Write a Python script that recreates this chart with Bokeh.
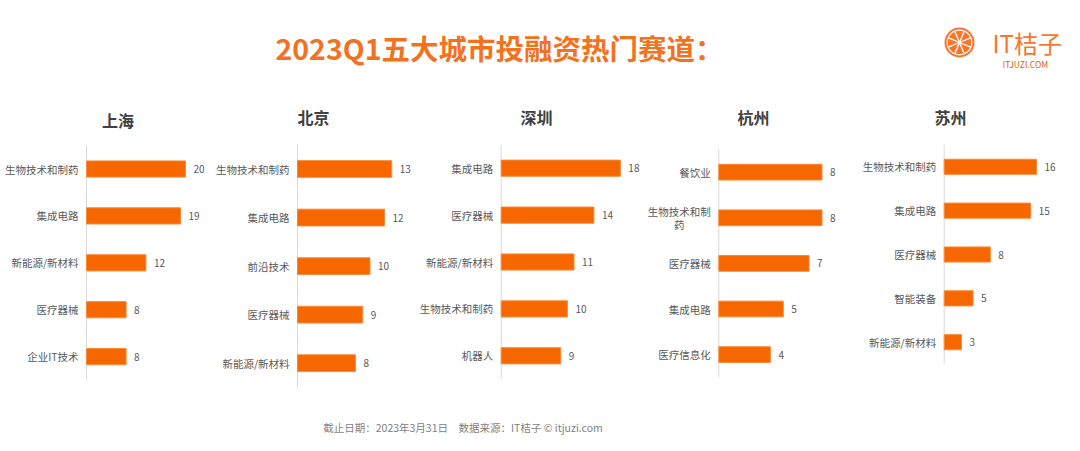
from bokeh.plotting import figure
from bokeh.layouts import column, row
from bokeh.models import Range1d, ColumnDataSource
from bokeh.core.properties import value
from bokeh.embed import file_html
from bokeh.resources import INLINE
import numpy as np

# ---------------- data ----------------
chart_title = "2023Q1五大城市投融资热门赛道："
footer_text = "截止日期：2023年3月31日\u3000数据来源：IT桔子 © itjuzi.com"
cities = ["上海", "北京", "深圳", "杭州", "苏州"]

sh_cats = ["生物技术和制药", "集成电路", "新能源/新材料", "医疗器械", "企业IT技术"]
sh_vals = [20, 19, 12, 8, 8]
bj_cats = ["生物技术和制药", "集成电路", "前沿技术", "医疗器械", "新能源/新材料"]
bj_vals = [13, 12, 10, 9, 8]
sz_cats = ["集成电路", "医疗器械", "新能源/新材料", "生物技术和制药", "机器人"]
sz_vals = [18, 14, 11, 10, 9]
hz_cats = ["餐饮业", "生物技术和制药", "医疗器械", "集成电路", "医疗信息化"]
hz_vals = [8, 8, 7, 5, 4]
suz_cats = ["生物技术和制药", "集成电路", "医疗器械", "智能装备", "新能源/新材料"]
suz_vals = [16, 15, 8, 5, 3]

# labels that wrap onto two lines in a panel (panel index -> {category: (line1, line2)})
wrapped = {3: {"生物技术和制药": ("生物技术和制", "药")}}

# ---------------- style ----------------
FONT = "Noto Sans CJK SC"
ORANGE = "#F66700"
LOGO_ORANGE = "#F7772C"
TITLE_ORANGE = "#F2721E"
GREY = "#595959"
LABEL_PX = 10.5

HEAD_H = 130
ROW_H = 270
FOOT_H = 451 - HEAD_H - ROW_H
ROW_TOP = HEAD_H
ROW_BOT = HEAD_H + ROW_H

# per panel: width, axis offset px, px per unit, first bar centre (page px), bar step px
panel_style = [
    (210, 86.0, 4.95, 168.5, 46.9),
    (205, 87.0, 7.25, 168.5, 48.55),
    (227, 85.7, 6.62, 167.7, 46.9),
    (210, 76.3, 12.9, 171.7, 45.6),
    (228, 91.7, 5.77, 166.3, 43.85),
]
# city title centres in page px
title_pos = [(117.5, 119), (313, 116), (536, 116), (753, 116), (950, 116)]

# ---------------- header ----------------
head = figure(width=1080, height=HEAD_H, x_range=Range1d(0, 1080), y_range=Range1d(HEAD_H, 0),
              output_backend="svg", toolbar_location=None, min_border=0)
head.axis.visible = False
head.grid.visible = False
head.outline_line_color = None
head.text(x=[499], y=[47], text=[chart_title], text_font=value(FONT), text_font_style="bold",
          text_font_size="28.5px", text_color=TITLE_ORANGE, text_align="center", text_baseline="middle")
# logo (orange slice)
cx, cy = 959, 42
head.circle(x=[cx], y=[cy], radius=15, fill_color=LOGO_ORANGE, line_color=None)
head.annulus(x=[cx], y=[cy], inner_radius=11.8, outer_radius=12.9, fill_color="white", line_color=None)
n = 8
ang = np.arange(n) * 2 * np.pi / n + np.pi / 8
head.segment(x0=[cx] * n, y0=[cy] * n, x1=list(cx + 12 * np.cos(ang)), y1=list(cy + 12 * np.sin(ang)),
             line_color="white", line_width=1.3)
head.text(x=[992], y=[42], text=["IT桔子"], text_font=value(FONT), text_font_size="24px",
          text_color=LOGO_ORANGE, text_align="left", text_baseline="middle")
head.text(x=[1025], y=[63], text=["ITJUZI.COM"], text_font=value(FONT), text_font_size="8.5px",
          text_color="#E0600A", text_align="center", text_baseline="middle")
# city titles
head.text(x=[t[0] for t in title_pos], y=[t[1] for t in title_pos], text=cities,
          text_font=value(FONT), text_font_style="bold", text_font_size="16px", text_color="#404040",
          text_align="center", text_baseline="middle")

# ---------------- panels ----------------
all_cats = [sh_cats, bj_cats, sz_cats, hz_cats, suz_cats]
all_vals = [sh_vals, bj_vals, sz_vals, hz_vals, suz_vals]
figs = []
for i, (cats, vals) in enumerate(zip(all_cats, all_vals)):
    w, axis_px, ppu, c0, step = panel_style[i]
    x_range = Range1d(-axis_px / ppu, (w - axis_px) / ppu)
    # index 0 at top: bottom of frame -> larger index
    y_range = Range1d((ROW_BOT - c0) / step, (ROW_TOP - c0) / step)
    p = figure(width=w, height=ROW_H, x_range=x_range, y_range=y_range,
               output_backend="svg", toolbar_location=None,
               x_axis_location=None, y_axis_location=None, min_border=0)
    p.outline_line_color = None
    p.grid.visible = False
    idx = list(range(len(cats)))
    wr = wrapped.get(i, {})
    single = [c if c not in wr else "" for c in cats]
    src = ColumnDataSource(dict(idx=idx, cat=cats, val=vals, lab=[str(v) for v in vals], name=single))
    # axis line spanning the category band
    p.segment(x0=[0], y0=[-0.5], x1=[0], y1=[len(cats) - 0.5], line_color="#D9D9D9", line_width=1)
    p.hbar(y="idx", right="val", left=0, height=0.345, source=src,
           fill_color=ORANGE, line_color="#F98A3A", line_width=1)
    p.text(x="val", y="idx", text="lab", source=src, x_offset=8, text_align="left",
           text_baseline="middle", text_font=value(FONT), text_font_size="10px", text_color=GREY)
    p.text(x=0, y="idx", text="name", source=src, x_offset=-8, text_align="right",
           text_baseline="middle", text_font=value(FONT), text_font_size=f"{LABEL_PX}px", text_color=GREY)
    for cat, (l1, l2) in wr.items():
        k = cats.index(cat)
        p.text(x=[0], y=[k], text=[l1], x_offset=-8, y_offset=-6, text_align="right",
               text_baseline="middle", text_font=value(FONT), text_font_size=f"{LABEL_PX}px", text_color=GREY)
        p.text(x=[0], y=[k], text=[l2], x_offset=-8 - len(l1) * LABEL_PX / 2, y_offset=7,
               text_align="center", text_baseline="middle", text_font=value(FONT),
               text_font_size=f"{LABEL_PX}px", text_color=GREY)
    figs.append(p)

# ---------------- footer ----------------
foot = figure(width=1080, height=FOOT_H, x_range=Range1d(0, 1080), y_range=Range1d(FOOT_H, 0),
              output_backend="svg", toolbar_location=None, min_border=0)
foot.axis.visible = False
foot.grid.visible = False
foot.outline_line_color = None
foot.text(x=[462.5], y=[27], text=[footer_text], text_font=value(FONT), text_font_size="10.5px",
          text_color="#7F7F7F", text_align="center", text_baseline="middle")

layout = column(head, row(*figs, spacing=0), foot, spacing=0)
open("out.html", "w").write(file_html(layout, INLINE))
